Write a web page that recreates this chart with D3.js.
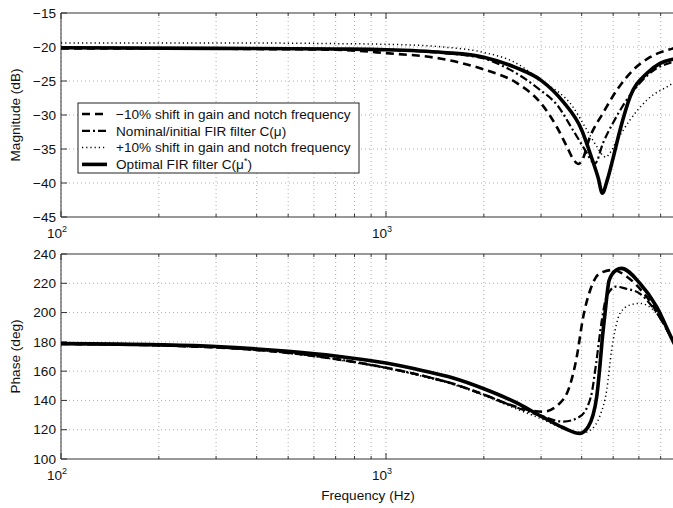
<!DOCTYPE html>
<html>
<head>
<meta charset="utf-8">
<script src="https://cdn.jsdelivr.net/npm/d3@7"></script>
<style>
  body { margin: 0; background: #fff; }
  svg { font-family: "Liberation Sans", Arial, sans-serif; }
</style>
</head>
<body>
<div id="root"></div>
<script>
// ---- data ----
let magFreqMinus = [100, 200, 400, 700, 1000, 1466, 2000, 2528, 2976, 3358, 3606, 3780, 3900, 4000, 4244, 4655, 5140, 5756, 6490, 7640, 8000];
let magMinus     = [-20.2, -20.2, -20.3, -20.4, -20.9, -21.7, -23.3, -25.3, -28.1, -31.8, -34.7, -36.6, -37.2, -36.8, -33.2, -29.7, -26.3, -23.4, -21.5, -20.2, -19.9];

let magFreqNominal = [100, 300, 700, 1000, 1500, 2000, 2356, 2976, 3358, 3758, 4150, 4300, 4400, 4655, 4990, 5430, 6040, 6820, 7640, 8000];
let magNominal     = [-20.1, -20.2, -20.3, -20.4, -20.9, -21.7, -23.1, -26.3, -28.5, -32.2, -35.6, -36.8, -37.1, -34.1, -31.2, -28.2, -25.3, -23.1, -22.2, -21.9];

let magFreqPlus = [100, 300, 700, 1000, 1500, 2000, 2500, 2976, 3758, 4150, 4460, 4660, 4750, 4850, 5140, 5640, 6350, 7640, 8000];
let magPlus     = [-19.4, -19.4, -19.5, -19.6, -20.0, -20.8, -22.3, -24.8, -28.8, -32.2, -34.7, -36.0, -36.2, -35.8, -33.7, -30.7, -27.8, -25.3, -24.6];

let magFreqOptimal = [100, 300, 700, 1000, 1500, 2000, 2500, 3000, 3500, 4000, 4300, 4500, 4630, 4800, 5000, 5250, 5640, 6340, 6970, 7640, 8000];
let magOptimal     = [-20.1, -20.2, -20.3, -20.4, -20.8, -21.5, -23.0, -24.9, -28.0, -32.2, -36.4, -39.3, -41.5, -39.5, -36.3, -32.2, -27.3, -23.9, -22.4, -21.8, -21.6];

let phFreqMinus = [100, 200, 300, 500, 700, 1000, 1300, 1600, 2000, 2500, 3040, 3520, 3865, 4045, 4250, 4546, 5000, 5510, 6340, 7640, 8000];
let phMinus     = [178.6, 177.6, 176.2, 172.5, 168.3, 162.3, 156.8, 151.5, 144, 135.8, 132.3, 141, 170, 197.2, 215.4, 226.8, 229.1, 224.5, 210.8, 181.3, 174];

let phFreqNominal = [100, 200, 300, 500, 700, 1000, 1300, 1600, 2000, 2500, 3000, 3517, 3950, 4270, 4430, 4600, 4770, 5100, 5430, 6040, 6600, 7640, 8000];
let phNominal     = [178.6, 177.6, 176.2, 172.5, 168.3, 162.3, 156.8, 151.5, 144, 135.5, 129.5, 125.5, 129, 142.5, 165, 192.7, 210.8, 217.7, 216.5, 213, 204, 181, 173];

let phFreqPlus = [100, 200, 300, 500, 700, 1000, 1300, 1600, 2000, 2500, 3000, 3500, 4050, 4300, 4546, 4776, 4945, 5070, 5250, 5640, 6040, 6800, 7640, 8000];
let phPlus     = [178.5, 177.4, 176.0, 172.2, 167.9, 161.9, 156.4, 151, 143.4, 134.5, 127.5, 121, 118, 120.5, 129.1, 147, 174.4, 188, 199.5, 205.2, 206.3, 199.5, 181.3, 174];

let phFreqOptimal = [100, 200, 300, 500, 700, 1000, 1300, 1600, 2000, 2500, 3000, 3500, 3950, 4190, 4450, 4550, 4620, 4720, 4860, 5110, 5300, 6040, 6800, 7640, 8000];
let phOptimal     = [178.8, 178.0, 176.8, 173.5, 170.3, 165.5, 160.3, 155.5, 148, 138.8, 129.3, 121.5, 117.5, 122, 142.5, 163, 180, 199.5, 222, 229, 230.2, 220, 204, 180.5, 172];

let legendLabels = [
  "\u221210% shift in gain and notch frequency",
  "Nominal/initial FIR filter C(\u03bc)",
  "+10% shift in gain and notch frequency",
  "Optimal FIR filter C(\u03bc*)"
];

let magTicks = [-15, -20, -25, -30, -35, -40, -45];
let phaseTicks = [240, 220, 200, 180, 160, 140, 120, 100];

// line styles for the four series
let styles = [
  { width: 2.6, dash: "8,5" },
  { width: 2.2, dash: "8,3,2,3" },
  { width: 1.5, dash: "1.2,3" },
  { width: 3.6, dash: null }
];

let width = 673, height = 508;
let left = 61, right = 679.5;
let fontSize = 13.6;

let svg = d3.select('#root').append('svg')
  .attr('width', width)
  .attr('height', height);

let x = d3.scaleLog().domain([100, 8000]).range([left, right]);

let minorTicks = [];
[100, 1000].forEach(function (dec) {
  for (let k = 2; k <= 9; k++) {
    if (dec * k <= 8000) minorTicks.push(dec * k);
  }
});
let majorTicks = [100, 1000];

function fmt(v) {
  return v < 0 ? "\u2212" + Math.abs(v) : String(v);
}

function drawPanel(top, bottom, yDomain, yTicks, label, series, clipId) {
  let y = d3.scaleLinear().domain(yDomain).range([bottom, top]);
  let g = svg.append('g');

  g.append('clipPath').attr('id', clipId)
    .append('rect')
    .attr('x', left).attr('y', top)
    .attr('width', right - left).attr('height', bottom - top);

  // grid
  g.selectAll('.vgrid')
    .data(majorTicks.concat(minorTicks))
    .enter().append('line')
    .attr('x1', d => x(d)).attr('x2', d => x(d))
    .attr('y1', top).attr('y2', bottom)
    .attr('stroke', '#9a9a9a').attr('stroke-width', 0.8)
    .attr('stroke-dasharray', '1,3');

  g.selectAll('.hgrid')
    .data(yTicks.filter(t => t !== yDomain[0] && t !== yDomain[1]))
    .enter().append('line')
    .attr('x1', left).attr('x2', right)
    .attr('y1', d => y(d)).attr('y2', d => y(d))
    .attr('stroke', '#9a9a9a').attr('stroke-width', 0.8)
    .attr('stroke-dasharray', '1,3');

  // tick marks (inward, MATLAB style)
  g.selectAll('.ytick')
    .data(yTicks)
    .enter().append('line')
    .attr('x1', left).attr('x2', left + 6)
    .attr('y1', d => y(d)).attr('y2', d => y(d))
    .attr('stroke', '#333');
  g.selectAll('.ytickR')
    .data(yTicks)
    .enter().append('line')
    .attr('x1', right - 6).attr('x2', right)
    .attr('y1', d => y(d)).attr('y2', d => y(d))
    .attr('stroke', '#333');

  [bottom, top].forEach(function (yy) {
    let dir = yy === bottom ? -1 : 1;
    g.selectAll(null)
      .data(majorTicks)
      .enter().append('line')
      .attr('x1', d => x(d)).attr('x2', d => x(d))
      .attr('y1', yy).attr('y2', yy + dir * 6)
      .attr('stroke', '#333');
    g.selectAll(null)
      .data(minorTicks)
      .enter().append('line')
      .attr('x1', d => x(d)).attr('x2', d => x(d))
      .attr('y1', yy).attr('y2', yy + dir * 3)
      .attr('stroke', '#333');
  });

  // axes box
  g.append('path')
    .attr('d', 'M' + right + ',' + top + 'H' + left + 'V' + bottom + 'H' + right)
    .attr('fill', 'none')
    .attr('stroke', '#333')
    .attr('stroke-width', 1);

  // y tick labels
  g.selectAll('.ylab')
    .data(yTicks)
    .enter().append('text')
    .attr('x', left - 5)
    .attr('y', d => y(d))
    .attr('dy', '0.35em')
    .attr('text-anchor', 'end')
    .attr('font-size', fontSize)
    .attr('fill', '#111')
    .text(d => fmt(d));

  // x tick labels 10^k
  majorTicks.forEach(function (t) {
    let txt = g.append('text')
      .attr('x', x(t) - 4)
      .attr('y', bottom + 21)
      .attr('text-anchor', 'middle')
      .attr('font-size', fontSize)
      .attr('fill', '#111');
    txt.append('tspan').text('10');
    txt.append('tspan')
      .attr('font-size', 9)
      .attr('dy', -6)
      .text(Math.round(Math.log10(t)));
  });

  // y label
  g.append('text')
    .attr('transform', 'translate(20,' + ((top + bottom) / 2) + ') rotate(-90)')
    .attr('text-anchor', 'middle')
    .attr('font-size', fontSize)
    .attr('fill', '#111')
    .text(label);

  // curves
  let line = d3.line()
    .x(d => x(d[0]))
    .y(d => y(d[1]))
    .curve(d3.curveMonotoneX);

  g.append('g')
    .attr('clip-path', 'url(#' + clipId + ')')
    .selectAll('path')
    .data(series)
    .enter().append('path')
    .attr('d', d => line(d3.zip(d.f, d.v)))
    .attr('fill', 'none')
    .attr('stroke', '#000')
    .attr('stroke-width', (d, i) => styles[i].width)
    .attr('stroke-dasharray', (d, i) => styles[i].dash)
    .attr('stroke-linejoin', 'round');

  return y;
}

drawPanel(13, 217, [-45, -15], magTicks, 'Magnitude (dB)', [
  { f: magFreqMinus, v: magMinus },
  { f: magFreqNominal, v: magNominal },
  { f: magFreqPlus, v: magPlus },
  { f: magFreqOptimal, v: magOptimal }
], 'clipMag');

drawPanel(254, 459, [100, 240], phaseTicks, 'Phase (deg)', [
  { f: phFreqMinus, v: phMinus },
  { f: phFreqNominal, v: phNominal },
  { f: phFreqPlus, v: phPlus },
  { f: phFreqOptimal, v: phOptimal }
], 'clipPh');

svg.append('text')
  .attr('x', 368)
  .attr('y', 500)
  .attr('text-anchor', 'middle')
  .attr('font-size', fontSize)
  .attr('fill', '#111')
  .text('Frequency (Hz)');

// legend
let legend = svg.append('g').attr('transform', 'translate(78,103)');
legend.append('rect')
  .attr('width', 281).attr('height', 70)
  .attr('fill', '#fff').attr('stroke', '#222').attr('stroke-width', 1);

let rows = legend.selectAll('.row')
  .data(legendLabels)
  .enter().append('g')
  .attr('transform', (d, i) => 'translate(0,' + (11 + i * 16.8) + ')');

rows.append('line')
  .attr('x1', 4).attr('x2', 29)
  .attr('stroke', '#000')
  .attr('stroke-width', (d, i) => styles[i].width)
  .attr('stroke-dasharray', (d, i) => styles[i].dash);

rows.append('text')
  .attr('x', 38)
  .attr('dy', '0.35em')
  .attr('font-size', fontSize)
  .attr('fill', '#111')
  .each(function (d) {
    let t = d3.select(this);
    if (d.endsWith('*)')) {
      t.append('tspan').text(d.slice(0, -2));
      t.append('tspan').attr('font-size', 9).attr('dy', -5).text('*');
      t.append('tspan').attr('dy', 5).text(')');
    } else {
      t.text(d);
    }
  });
</script>
</body>
</html>
